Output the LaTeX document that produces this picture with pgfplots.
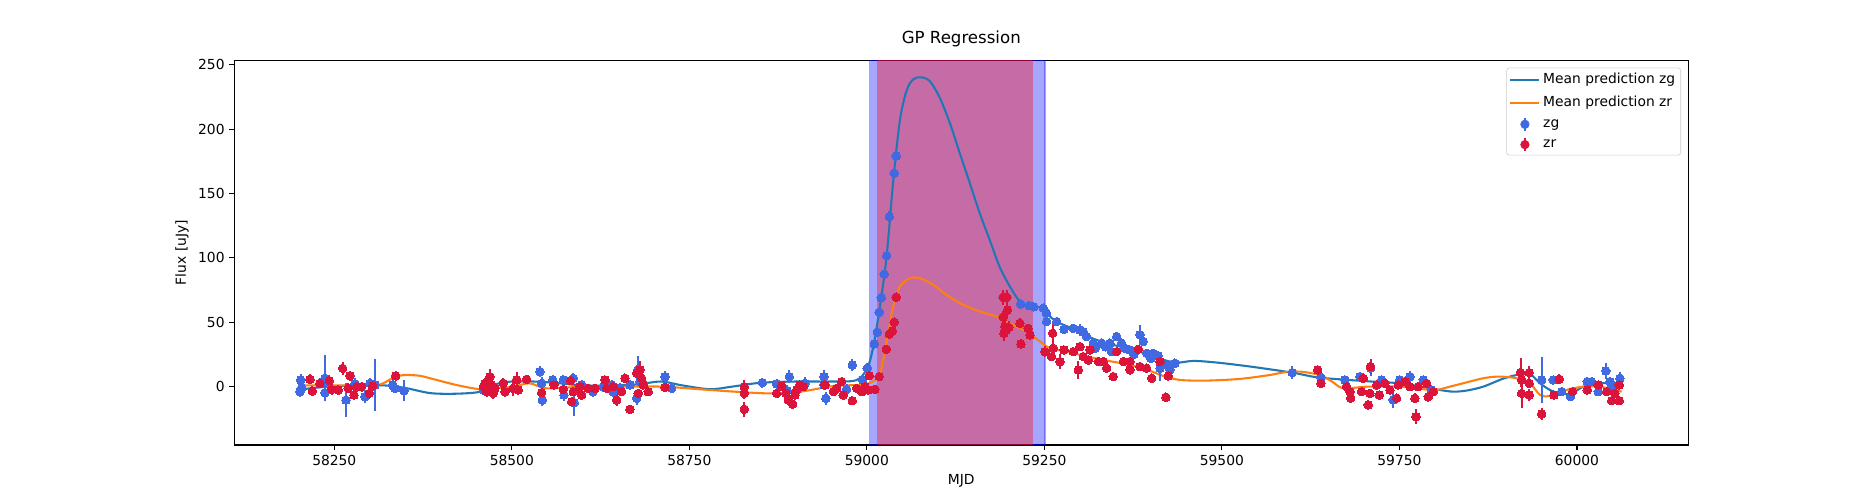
\documentclass[border=0pt]{standalone}
\usepackage{fontspec}
\setmainfont{DejaVu Sans}
\usepackage{pgfplots}
\usepackage{pgfplotstable}
\pgfplotsset{compat=1.18}
\definecolor{tabblue}{RGB}{31,119,180}
\definecolor{taborange}{RGB}{255,127,14}
\definecolor{royalblue}{RGB}{65,105,225}
\definecolor{crimson}{RGB}{220,20,60}
\definecolor{legframe}{RGB}{204,204,204}

\pgfplotstableread{
x y e
58201.7 -3.9 4
58202.6 5.2 5
58204 -1 4
58236.9 6.5 18
58237 -4.7 5
58240 3 4
58266.5 -10.4 13
58279.1 2.1 5
58293.2 -7.8 5
58300.3 2.6 4
58307.3 1.3 20
58332.2 1.3 4
58335.5 -1.3 4
58348.1 -3.1 8
58459.9 -2.6 4
58466.9 2.6 4
58539.6 11.7 4
58542 2.6 5
58543 -10.4 5
58557.5 5.2 4
58572.5 5.2 4
58573.4 -6.5 5
58586.6 6.5 4
58588 -12.4 10
58598.3 1.3 4
58614.7 -3.9 4
58628.8 0 4
58640.6 1.3 4
58642.9 -3.9 4
58652.3 -1.3 4
58666.4 1.3 4
58675.8 -9.1 5
58678.1 13.5 10
58680.5 3.9 4
58715.7 7.8 4
58725.1 -1.3 4
58852.8 3.1 4
58873 2.1 4
58888 -3.1 4
58890.8 7.8 5
58912.9 2.6 5
58939.6 7.8 5
58939.6 1.3 4
58942.4 -9.1 5
58971.5 -2.1 4
58979.5 16.8 5
58994.1 5.2 4
59000.6 14.3 4
59010.5 33.2 3
59014.7 42.2 3
59017.5 57.8 3
59020.3 69.1 3
59024.5 87.3 3
59027.9 101.7 3
59031.6 132 4
59038.6 165.7 3
59041.4 179.1 3
59216.6 64 3
59228.7 62.9 3
59235 62 3
59248.5 60.9 3
59253.2 50.5 3
59253 57 3
59267.3 50.5 3
59277.6 44.6 3
59290.7 45.3 3
59300.1 44 5
59304.8 42.7 3
59309.5 38.9 3
59318.9 33.7 3
59322 30 3
59330.6 33.7 3
59336 31 3
59342.4 33.7 3
59344.7 27.2 3
59351.8 38.9 3
59358.8 33.7 3
59363.5 29.8 3
59370.5 28.5 3
59376 25 3
59384.6 40.2 8
59389.3 35 3
59394 25.9 3
59400 22 3
59403.4 25.9 3
59410 24 3
59412.8 14.3 10
59424.5 16.9 3
59426.9 13 3
59433.9 18.2 3
59599.1 10.9 5
59639.5 7.3 3
59673.3 5.2 3
59694.4 7.8 3
59709.4 14.3 6
59724.9 5.2 3
59741.3 -10.3 6
59750.7 5.2 3
59764.8 7.8 4
59783.6 5.2 3
59795.3 -2.6 3
59950.2 5.2 18
59966.6 5.2 3
59978.4 -3.9 3
59991.1 -7.7 3
60014.5 3.9 3
60020.6 3.9 3
60030 -3.9 3
60040.8 12.2 6
60046.5 3.9 3
60048.8 0 3
60060.5 6.5 5
}\zgdata

\pgfplotstableread{
x y e
58215.8 5.7 4
58219.1 -3.4 4
58229.8 2.6 4
58243 4.7 4
58246.3 -2.1 4
58255.7 -2.6 4
58261.8 14.2 5
58269.7 -1.3 4
58272.1 8.5 4
58277.7 -6.5 4
58281.5 0 4
58288.5 0 4
58299.3 -5.2 4
58304 0.5 4
58336.4 8.3 4
58459.9 0 4
58462.2 2.6 4
58464.5 -3.9 4
58469.2 7.8 6
58471.6 1.3 4
58473.9 -5.2 4
58476.3 -1.3 4
58488 2.6 4
58490.4 -3.9 4
58502.1 -1.3 6
58506.8 5.2 6
58509.1 -2.6 4
58520.9 5.7 3
58542 -4.7 4
58559.4 1.3 3
58572.5 -2.1 3
58582.9 4.7 3
58584.2 -11.7 4
58586.6 -3.9 3
58596 0 3
58598.3 -6.5 3
58607.7 -1.3 3
58617.1 -1.3 3
58631.2 5.2 3
58633.5 -1.3 3
58642.9 0 3
58647.6 -10.4 5
58654.6 -3.9 3
58659.4 6.5 3
58666.4 -17.6 3
58675.8 10.4 4
58678.1 -5.2 3
58680.5 13 7
58682.8 6.5 3
58685.2 1.3 3
58692.2 -3.9 3
58715.7 -0.5 3
58827.4 0 5
58827.4 -5.2 4
58827.4 -17.6 6
58873 -5.2 3
58880 0.5 3
58886.1 -5.2 3
58889.4 -10.4 3
58895.5 -13.5 3
58898.8 -6.5 3
58901.1 -2.6 3
58905.8 1.3 3
58910.5 0 3
58941 1.3 3
58952.8 -3.9 3
58957.5 -1.3 3
58964.5 3.9 3
58966.8 -6.5 3
58979.5 -10.9 3
58985.6 -1.3 3
58992.7 -3.9 3
58997.4 0 3
59002 -2.6 3
59003.5 8.5 3
59011.4 -2.1 3
59017.5 7.8 3
59027.4 29 3
59031.6 40.7 3
59035.8 43.2 3
59038.6 50 3
59041.4 69.4 3
59192 69.4 6
59197 69.4 6
59198 59.5 5
59192 54 5
59194.5 46.6 5
59200 46 5
59193 41.5 6
59215.6 49.2 4
59217 33.1 4
59227 45.3 3
59229.7 40.1 3
59250.8 27.2 4
59260.2 23.3 3
59261.6 41.5 8
59262.6 29.8 3
59272 19.5 6
59277.6 28.5 3
59290.7 27.2 3
59297.8 13 7
59300.1 31.1 3
59304.8 23.3 3
59311.9 20.7 3
59314.2 28.5 3
59325.9 19.5 3
59333 19.5 3
59337.7 14.3 3
59347 7.8 3
59351.8 27.2 3
59361.2 19.5 3
59370.5 13 3
59370.5 19.5 3
59382.3 29 3
59384.6 15.6 3
59394 14.3 3
59401.1 6.5 3
59412.8 19.5 3
59421.2 -8.2 3
59424.5 8.3 3
59634.9 13 3
59639.5 2.6 3
59675.6 0 3
59680.3 -3.9 3
59681.3 -9 4
59696.7 -3.9 3
59699.1 6.5 3
59706.1 -14.2 4
59708.5 -5.2 3
59709.4 15.6 6
59717.9 1.3 3
59721.6 -6.5 3
59729.6 2.6 3
59736.6 -2.6 3
59746 -9 3
59748.4 1.3 3
59757.8 3.9 3
59764.8 0 3
59771.8 -9 4
59773.3 -23.3 6
59776.5 0 3
59788.3 2.6 3
59790.6 -7.8 4
59797.7 -3.9 3
59920.6 10.9 11
59922 5.2 4
59922 -5.2 11
59932.8 10.9 5
59932.8 2.6 3
59932.8 -6.5 5
59950.2 -21.2 5
59967.6 -6.5 3
59975.1 5.7 4
59993.9 -3.9 3
60014.5 -2.6 4
60030 1.3 3
60041.8 -3.9 3
60048.8 -10.9 3
60053.5 -5.2 3
60059.6 -10.9 3
60059.6 1.3 3
}\zrdata

\pgfplotstableread{
x y
58205 -2
58240 0
58280 1
58320 1
58350 -1
58385 -5
58420 -5.5
58455 -4
58478 2
58500 4
58530 4
58560 3
58600 1
58640 1
58680 2
58710 4
58740 1
58779 -2
58810 0
58850 3
58900 4
58950 4
58985 5
59000.6 14.3
59009 31
59018.4 62
59027.8 101
59037.2 160
59046.6 207
59056 230
59065.4 238.7
59077 240.2
59089 237
59103 224
59117 204.5
59131 181
59145 158
59159 134.6
59173 114
59187 93
59201.5 77.7
59215.6 66
59229.7 62.2
59243.8 61.5
59253 57
59267 50.5
59290 45
59320 37
59350 32
59380 28
59410 22
59436 18.7
59460 20
59493 18.7
59540 15.6
59599 10.9
59633 7.3
59671 5.5
59710 4
59750 2.6
59790 -1
59807 -2.6
59826 -3.9
59845 -3
59868 0
59895 6
59915 9
59934 9.6
59948 2.6
59967 -3.9
59990 -5.7
60009 0
60032 2.6
60061 2.6
}\zgcurve

\pgfplotstableread{
x y
58205 1
58250 1
58310 1.3
58330 6
58347 9
58370 8.5
58385 6.5
58422 1.3
58455 -2
58478 -1.3
58502 0
58525 2.6
58549 -1.3
58600 0
58650 0
58713 0
58779 -2.6
58859 -5.2
58906 -3.9
58953 0.5
58990 1.3
59005 3
59017 8
59023 20.8
59030 41.4
59037 62.2
59046.6 77.7
59060.7 84.2
59074.8 84.2
59093.6 79
59112.3 71.2
59135.8 63.5
59159.3 58.3
59182.7 54.4
59201.5 49.2
59220.3 44
59234.4 38.9
59248.5 33.2
59258 30
59290 26
59330 21
59370 17
59400 12
59417.5 8.3
59441 5.2
59478 4.7
59525 6
59567 9
59586 11
59610 11.7
59638 9
59655 4
59671 -1.3
59704 0
59751 0
59798 -2.6
59821 0
59868 6.5
59891 7.8
59915 6.5
59934 2.6
59948 -6.5
59962 -7.2
59985 -2.6
60009 0
60032 0
60063 -3.9
}\zrcurve

\begin{document}
\begin{tikzpicture}
\path[use as bounding box] (0,0) rectangle (18.75in,5in);
\begin{axis}[
  at={(2.343in,0.55in)}, anchor=south west,
  scale only axis, width=14.54in, height=3.847in,
  xmin=58109.2, xmax=60156.8, ymin=-45.3, ymax=253.4,
  xtick={58250,58500,58750,59000,59250,59500,59750,60000},
  ytick={0,50,100,150,200,250},
  scaled x ticks=false, scaled y ticks=false,
  /pgf/number format/1000 sep={},
  /pgf/number format/assume math mode=true,
  tick label style={font=\fontsize{10}{12}\selectfont},
  label style={font=\fontsize{10}{12}\selectfont},
  xtick pos=bottom, ytick pos=left,
  tick align=outside, major tick length=3.5pt,
  tick style={black, line width=0.8pt},
  axis line style={line width=0.8pt},
  xlabel={MJD}, ylabel={Flux [uJy]},
  title={GP Regression},
  title style={font=\fontsize{12}{14}\selectfont},
  legend cell align=left,
  legend style={at={(0.995,0.981)}, anchor=north east, draw=legframe, rounded corners=2pt,
    font=\fontsize{10}{12}\selectfont, inner xsep=2pt, inner ysep=2pt, row sep=3.5pt},
]
\addplot[forget plot, fill=blue, fill opacity=0.35, draw=blue, draw opacity=0.35, line width=1pt]
  coordinates {(59004,-45.3) (59251,-45.3) (59251,253.4) (59004,253.4)} -- cycle;
\addplot[forget plot, fill=red, fill opacity=0.35, draw=red, draw opacity=0.35, line width=1pt]
  coordinates {(59015,-45.3) (59233,-45.3) (59233,253.4) (59015,253.4)} -- cycle;

\addplot[tabblue, line width=1.5pt, smooth, no markers,
  legend image code/.code={\draw[tabblue, line width=1.5pt] (0in,0in) -- (0.29in,0in);}]
  table[x=x,y=y] {\zgcurve};
\addlegendentry{Mean prediction zg}
\addplot[taborange, line width=1.5pt, smooth, no markers,
  legend image code/.code={\draw[taborange, line width=1.5pt] (0in,0in) -- (0.29in,0in);}]
  table[x=x,y=y] {\zrcurve};
\addlegendentry{Mean prediction zr}

\addplot[forget plot, only marks, mark=*, mark size=3.1pt, mark options={fill=royalblue, draw=royalblue, line width=0pt},
  error bars/.cd, y dir=both, y explicit, error mark=none,
  error bar style={royalblue, line width=1.5pt}]
  table[x=x,y=y,y error=e] {\zgdata};
\addlegendimage{legend image code/.code={%
    \draw[draw=none, fill=none] (0in,-0.01in) rectangle (0.29in,0.01in);
    \draw[royalblue, line width=1.5pt] (0.145in,-0.067in) -- (0.145in,0.067in);
    \fill[royalblue] (0.145in,0in) circle (3.1pt);}}
\addlegendentry{zg}
\addplot[forget plot, only marks, mark=*, mark size=3.1pt, mark options={fill=crimson, draw=crimson, line width=0pt},
  error bars/.cd, y dir=both, y explicit, error mark=none,
  error bar style={crimson, line width=1.5pt}]
  table[x=x,y=y,y error=e] {\zrdata};
\addlegendimage{legend image code/.code={%
    \draw[draw=none, fill=none] (0in,-0.01in) rectangle (0.29in,0.01in);
    \draw[crimson, line width=1.5pt] (0.145in,-0.067in) -- (0.145in,0.067in);
    \fill[crimson] (0.145in,0in) circle (3.1pt);}}
\addlegendentry{zr}
\end{axis}
\end{tikzpicture}
\end{document}
